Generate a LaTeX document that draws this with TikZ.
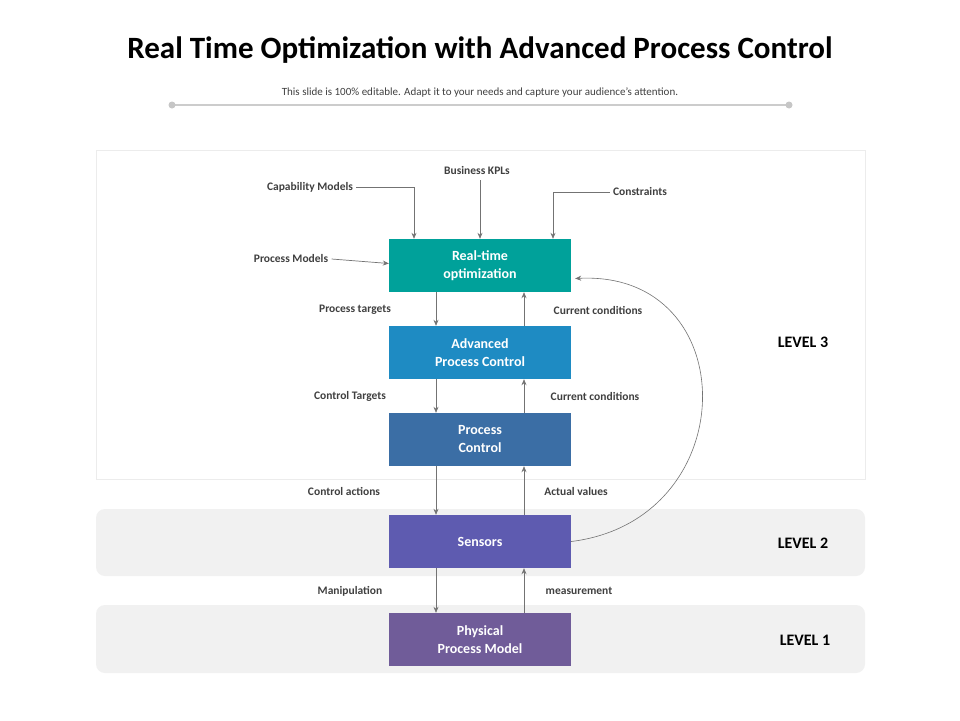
\documentclass[tikz,border=0pt]{standalone}
\usepackage{fontspec}
\setmainfont{Carlito}
\usetikzlibrary{arrows.meta,positioning}
\definecolor{rtoteal}{RGB}{0,161,154}
\definecolor{apcblue}{RGB}{30,139,195}
\definecolor{pcblue}{RGB}{59,110,165}
\definecolor{senspurple}{RGB}{94,91,176}
\definecolor{physpurple}{RGB}{112,92,153}
\definecolor{lvlgray}{RGB}{241,241,241}
\definecolor{txtgray}{RGB}{64,64,64}
\tikzset{
  blockbox/.style={minimum width=182pt,minimum height=53pt,text=white,font=\bfseries\fontsize{14}{18}\selectfont,align=center,inner sep=0pt},
  lbl/.style={text=txtgray,font=\bfseries\fontsize{11.5}{13}\selectfont},
  lvl/.style={text=black,font=\bfseries\fontsize{16}{18}\selectfont},
  flow/.style={-{Stealth[length=6pt,width=5pt]},draw=gray!90!black,line width=0.7pt}
}
\begin{document}
\begin{tikzpicture}[x=1pt,y=-1pt]
\useasboundingbox[fill=white] (0,0) rectangle (960,720);
% heading
\node (title) at (480,50) {\bfseries\fontsize{31}{34}\selectfont Real Time Optimization with Advanced Process Control};
\node[text=txtgray,font=\fontsize{11}{13}\selectfont] (sub) at (480,93) {This slide is 100\% editable. Adapt it to your needs and capture your audience's attention.};
\coordinate (hl) at (172,105);
\coordinate (hr) at (789,105);
\draw[gray!40,line width=1.2pt] (hl) -- (hr);
\fill[gray!45] (hl) circle (3.5) (hr) circle (3.5);
% level panels
\draw[gray!15,fill=white] (96,150) rectangle (865,479);
\fill[lvlgray,rounded corners=9pt] (96,509) rectangle (865,576);
\fill[lvlgray,rounded corners=9pt] (96,605) rectangle (865,673);
\node[lvl] (l3) at (803,342) {LEVEL 3};
\node[lvl] (l2) at (803,543) {LEVEL 2};
\node[lvl] (l1) at (805,640) {LEVEL 1};
% blocks
\node[blockbox,fill=rtoteal] (rto) at (480,265.5) {Real-time\\optimization};
\node[blockbox,fill=apcblue] (apc) at (480,352.5) {Advanced\\Process Control};
\node[blockbox,fill=pcblue] (pc) at (480,439.5) {Process\\Control};
\node[blockbox,fill=senspurple] (sens) at (480,541.5) {Sensors};
\node[blockbox,fill=physpurple] (phys) at (480,639.5) {Physical\\Process Model};
% down / up links
\foreach \a/\b in {rto/apc,apc/pc,pc/sens,sens/phys}{
  \draw[flow] ([xshift=-44pt]\a.south) -- ([xshift=-44pt]\b.north);
  \draw[flow] ([xshift=44pt]\b.north) -- ([xshift=44pt]\a.south);
}
\node[lbl] (pt) at (355,310) {Process targets};
\node[lbl] (cc1) at (598,310) {Current conditions};
\node[lbl] (ct) at (350,396) {Control Targets};
\node[lbl] (cc2) at (595,396) {Current conditions};
\node[lbl] (ca) at (344,491) {Control actions};
\node[lbl] (av) at (576,491) {Actual values};
\node[lbl] (man) at (350,591) {Manipulation};
\node[lbl] (meas) at (579,591) {measurement};
% inputs
\node[lbl] (kpl) at (477,171) {Business KPLs};
\node[lbl] (cap) at (310,187) {Capability Models};
\node[lbl] (con) at (640,192) {Constraints};
\node[lbl] (pm) at (291,259) {Process Models};
\draw[flow] (480,180) -- ([xshift=0pt]rto.north);
\draw[flow] (cap.east) -| ([xshift=-66pt]rto.north);
\draw[flow] (con.west) -| ([xshift=73pt]rto.north);
\draw[flow] (pm.east) -- ([yshift=2pt]rto.west);
% feedback
\draw[flow,line width=0.6pt] (sens.east) .. controls (745,520) and (745,270) .. ([xshift=4pt,yshift=-13pt]rto.east);
\end{tikzpicture}
\end{document}
